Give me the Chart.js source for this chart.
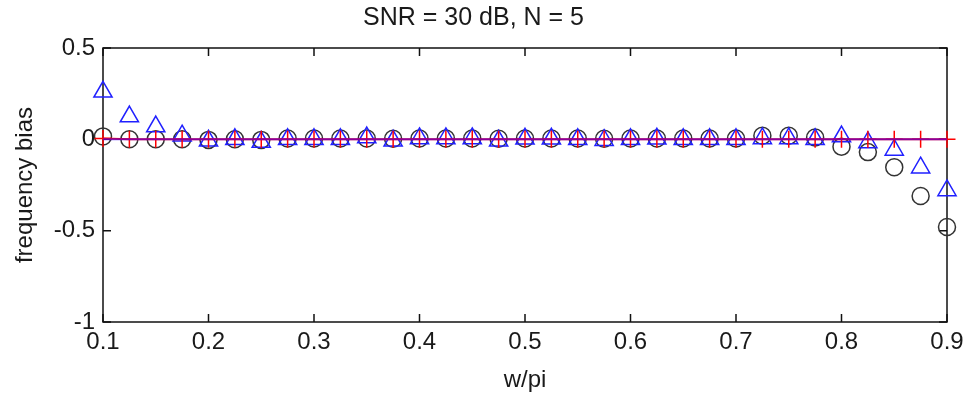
<!DOCTYPE html>
<html>
<head>
<meta charset="utf-8">
<script src="https://cdn.jsdelivr.net/npm/chart.js@4"></script>
<style>
  html, body { margin: 0; padding: 0; background: #fff; }
  #wrap { width: 980px; height: 401px; position: relative; }
</style>
</head>
<body>
<div id="wrap"><canvas id="c" width="980" height="401"></canvas></div>
<script>
// ---- data ----
const titleText = "SNR = 30 dB, N = 5";
const xLabel = "w/pi";
const yLabel = "frequency bias";
const freqs = [0.1, 0.125, 0.15, 0.175, 0.2, 0.225, 0.25, 0.275, 0.3, 0.325, 0.35,
               0.375, 0.4, 0.425, 0.45, 0.475, 0.5, 0.525, 0.55, 0.575, 0.6, 0.625,
               0.65, 0.675, 0.7, 0.725, 0.75, 0.775, 0.8, 0.825, 0.85, 0.875, 0.9];
const triangleBias = [0.26, 0.125, 0.07, 0.02, -0.008, 0.0, -0.015, 0.0, 0.0, 0.0, 0.01,
                      -0.008, 0.005, 0.005, 0.005, -0.008, 0.003, 0.003, 0.0, -0.005, 0.0, 0.003,
                      0.0, 0.0, 0.0, 0.005, 0.005, 0.0, 0.015, -0.017, -0.058, -0.155, -0.28];
const circleBias = [0.016, 0.0, 0.0, 0.0, -0.003, 0.0, -0.003, 0.005, 0.005, 0.005, 0.005,
                    0.003, 0.005, 0.005, 0.005, 0.003, 0.005, 0.005, 0.005, 0.003, 0.005, 0.005,
                    0.005, 0.005, 0.005, 0.02, 0.02, 0.01, -0.04, -0.07, -0.153, -0.31, -0.48];
const plusBias = [0.005, 0.0, 0.0, 0.0, 0.0, 0.0, 0.0, 0.0, 0.0, 0.0, 0.0,
                  0.0, 0.0, 0.0, 0.0, 0.0, 0.0, 0.0, 0.0, 0.0, 0.0, 0.0,
                  0.0, 0.0, 0.0, 0.0, 0.0, 0.0, 0.0, 0.0, 0.0, 0.0, 0.0];
const refLineX = [0.1, 0.9];
const refLineY = [0, 0];
const xTicks = [0.1, 0.2, 0.3, 0.4, 0.5, 0.6, 0.7, 0.8, 0.9];
const yTicks = [-1, -0.5, 0, 0.5];

const pts = (xs, ys) => xs.map((x, i) => ({ x: x, y: ys[i] }));
const FONT = "'Liberation Sans', Arial, sans-serif";
const TXT = '#1a1a1a';

// frame + inward ticks (MATLAB style box)
const boxPlugin = {
  id: 'box',
  beforeDatasetsDraw(chart) {
    const { ctx, chartArea: a, scales } = chart;
    ctx.save();
    ctx.strokeStyle = '#111';
    ctx.lineWidth = 1.5;
    ctx.strokeRect(a.left, a.top, a.right - a.left, a.bottom - a.top);
    const tl = 8;
    ctx.beginPath();
    xTicks.forEach(v => {
      const p = scales.x.getPixelForValue(v);
      ctx.moveTo(p, a.bottom); ctx.lineTo(p, a.bottom - tl);
      ctx.moveTo(p, a.top); ctx.lineTo(p, a.top + tl);
    });
    yTicks.forEach(v => {
      const p = scales.y.getPixelForValue(v);
      ctx.moveTo(a.left, p); ctx.lineTo(a.left + tl, p);
      ctx.moveTo(a.right, p); ctx.lineTo(a.right - tl, p);
    });
    ctx.stroke();
    ctx.restore();
  }
};

new Chart(document.getElementById('c'), {
  type: 'scatter',
  data: {
    datasets: [
      {
        label: 'circles',
        data: pts(freqs, circleBias),
        pointStyle: 'circle',
        pointRadius: 8.5,
        pointBorderWidth: 1.5,
        pointBorderColor: '#333',
        pointBackgroundColor: 'rgba(0,0,0,0)',
        showLine: false,
        clip: false,
        order: 4
      },
      {
        label: 'triangles',
        data: pts(freqs, triangleBias),
        pointStyle: 'triangle',
        pointRadius: 10.5,
        pointBorderWidth: 1.5,
        pointBorderColor: '#2020ff',
        pointBackgroundColor: 'rgba(0,0,0,0)',
        showLine: false,
        clip: false,
        order: 3
      },
      {
        label: 'plus',
        data: pts(freqs, plusBias),
        pointStyle: 'cross',
        pointRadius: 8.5,
        pointBorderWidth: 1.5,
        pointBorderColor: '#ff0000',
        borderColor: '#ff0000',
        borderWidth: 2,
        showLine: true,
        tension: 0,
        clip: false,
        order: 2
      },
      {
        label: 'reference',
        data: pts(refLineX, refLineY),
        pointRadius: 0,
        borderColor: 'rgba(60,0,255,0.6)',
        borderWidth: 2,
        showLine: true,
        clip: false,
        order: 1
      }
    ]
  },
  options: {
    responsive: false,
    animation: false,
    devicePixelRatio: 1,
    layout: { padding: { left: 0, right: 33, top: 0, bottom: 0 } },
    plugins: {
      legend: { display: false },
      tooltip: { enabled: false },
      title: {
        display: true,
        text: titleText,
        color: TXT,
        font: { family: FONT, size: 25, weight: 'normal' },
        padding: { top: 3, bottom: 15 }
      }
    },
    scales: {
      x: {
        type: 'linear',
        min: 0.1,
        max: 0.9,
        afterBuildTicks: s => { s.ticks = xTicks.map(v => ({ value: v })); },
        afterFit: s => { s.height = 79; },
        grid: { display: false, drawTicks: false },
        border: { display: false },
        ticks: {
          color: TXT,
          padding: 6,
          maxRotation: 0,
          font: { family: FONT, size: 24 },
          callback: v => String(Number(v.toFixed(3)))
        },
        title: {
          display: true,
          text: xLabel,
          color: TXT,
          font: { family: FONT, size: 24 },
          padding: { top: 0, bottom: 6 }
        }
      },
      y: {
        type: 'linear',
        min: -1,
        max: 0.5,
        afterBuildTicks: s => { s.ticks = yTicks.map(v => ({ value: v })); },
        afterFit: s => { s.width = 103; },
        grid: { display: false, drawTicks: false },
        border: { display: false },
        ticks: {
          color: TXT,
          padding: 8,
          font: { family: FONT, size: 24 },
          callback: v => String(Number(v.toFixed(3)))
        },
        title: {
          display: true,
          text: yLabel,
          color: TXT,
          font: { family: FONT, size: 24 },
          padding: { top: 11, bottom: 0 }
        }
      }
    }
  },
  plugins: [boxPlugin]
});
</script>
</body>
</html>
